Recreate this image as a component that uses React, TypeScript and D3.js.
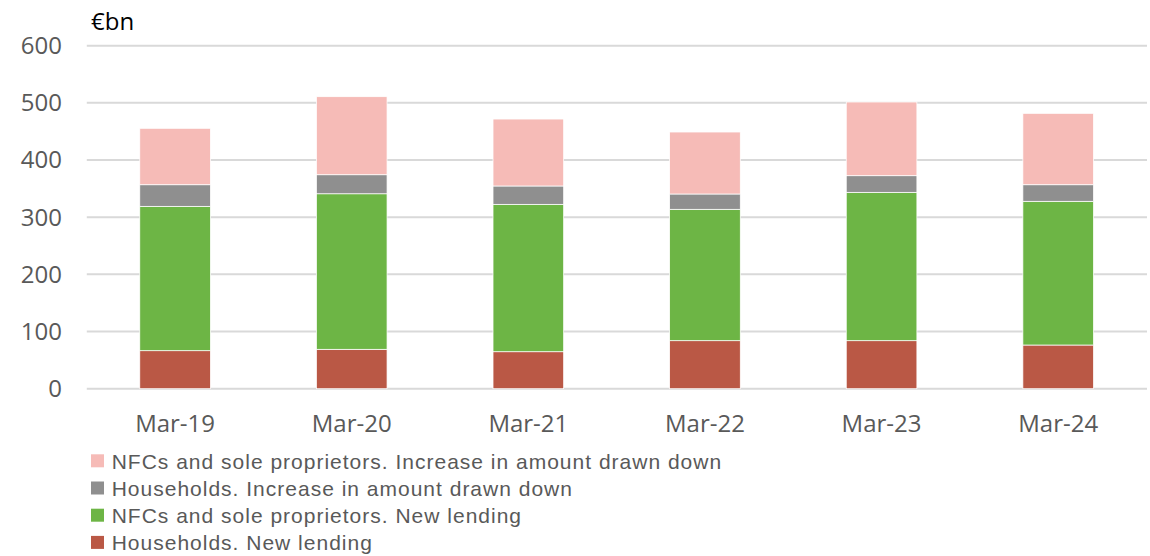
import React from "react";
import * as d3 from "d3";

// Bank lending flows, €bn, stacked by sector and type
const categories = ["Mar-19", "Mar-20", "Mar-21", "Mar-22", "Mar-23", "Mar-24"];
const householdsNewLending = [66.5, 68.9, 64.7, 84.0, 84.0, 76.4];
const nfcsNewLending = [252.5, 272.1, 257.8, 229.8, 259.5, 251.4];
const householdsDrawnDown = [37.8, 33.3, 32.1, 26.8, 29.1, 29.0];
const nfcsDrawnDown = [98.7, 136.5, 117.1, 108.4, 128.9, 124.9];
const yTicks = [0, 100, 200, 300, 400, 500, 600];

const seriesKeys = ["hhNew", "nfcNew", "hhDrawn", "nfcDrawn"] as const;
const seriesLabels: Record<string, string> = {
  nfcDrawn: "NFCs and sole proprietors. Increase in amount drawn down",
  hhDrawn: "Households. Increase in amount drawn down",
  nfcNew: "NFCs and sole proprietors. New lending",
  hhNew: "Households. New lending",
};
const seriesColors: Record<string, string> = {
  nfcDrawn: "#f6bbb7",
  hhDrawn: "#8f8f8f",
  nfcNew: "#6db545",
  hhNew: "#ba5845",
};
const legendOrder = ["nfcDrawn", "hhDrawn", "nfcNew", "hhNew"];

const rows = categories.map((c, i) => ({
  category: c,
  hhNew: householdsNewLending[i],
  nfcNew: nfcsNewLending[i],
  hhDrawn: householdsDrawnDown[i],
  nfcDrawn: nfcsDrawnDown[i],
}));

export default function App() {
  const width = 1150;
  const height = 556;

  const x = d3
    .scaleBand<string>()
    .domain(categories)
    .range([86.8, 1146.5])
    .paddingInner(0.6)
    .paddingOuter(0.3);
  const y = d3.scaleLinear().domain([0, 600]).range([388.7, 45.7]);

  const stacked = d3.stack<any>().keys(seriesKeys as unknown as string[])(rows);

  const axisFont = "'Open Sans', 'DejaVu Sans', sans-serif";
  const legendFont = "'Liberation Sans', Arial, sans-serif";
  const textColor = "#595959";

  return (
    <svg
      width={width}
      height={height}
      style={{ position: "absolute", left: 0, top: 0, background: "#fff" }}
    >
      {/* gridlines */}
      {yTicks.map((t) => (
        <line
          key={"g" + t}
          x1={86.8}
          x2={1147}
          y1={y(t)}
          y2={y(t)}
          stroke="#d9d9d9"
          strokeWidth={2}
        />
      ))}
      {/* y tick labels */}
      {yTicks.map((t) => (
        <text
          key={"t" + t}
          x={62}
          y={y(t)}
          dy="0.35em"
          textAnchor="end"
          fontFamily={axisFont}
          fontSize={24}
          fill={textColor}
        >
          {t}
        </text>
      ))}
      {/* unit */}
      <text x={91} y={30} fontFamily={axisFont} fontSize={24} fill="#000">
        €bn
      </text>
      {/* stacked bars */}
      {stacked.map((layer) => (
        <g key={layer.key} fill={seriesColors[layer.key]}>
          {layer.map((d, i) => (
            <rect
              key={i}
              x={x(categories[i])}
              y={y(d[1])}
              width={x.bandwidth()}
              height={y(d[0]) - y(d[1])}
              stroke="#ffffff"
              strokeWidth={0.75}
            />
          ))}
        </g>
      ))}
      {/* x labels */}
      {categories.map((c) => (
        <text
          key={"x" + c}
          x={(x(c) ?? 0) + x.bandwidth() / 2}
          y={432}
          textAnchor="middle"
          fontFamily={axisFont}
          fontSize={24}
          fill={textColor}
        >
          {c}
        </text>
      ))}
      {/* legend */}
      {legendOrder.map((k, i) => (
        <g key={"l" + k} transform={`translate(91, ${454.3 + i * 27.2})`}>
          <rect width={13} height={13} fill={seriesColors[k]} />
          <text
            x={20.7}
            y={14.4}
            fontFamily={legendFont}
            fontSize={21}
            letterSpacing={1}
            fill={textColor}
          >
            {seriesLabels[k]}
          </text>
        </g>
      ))}
    </svg>
  );
}
